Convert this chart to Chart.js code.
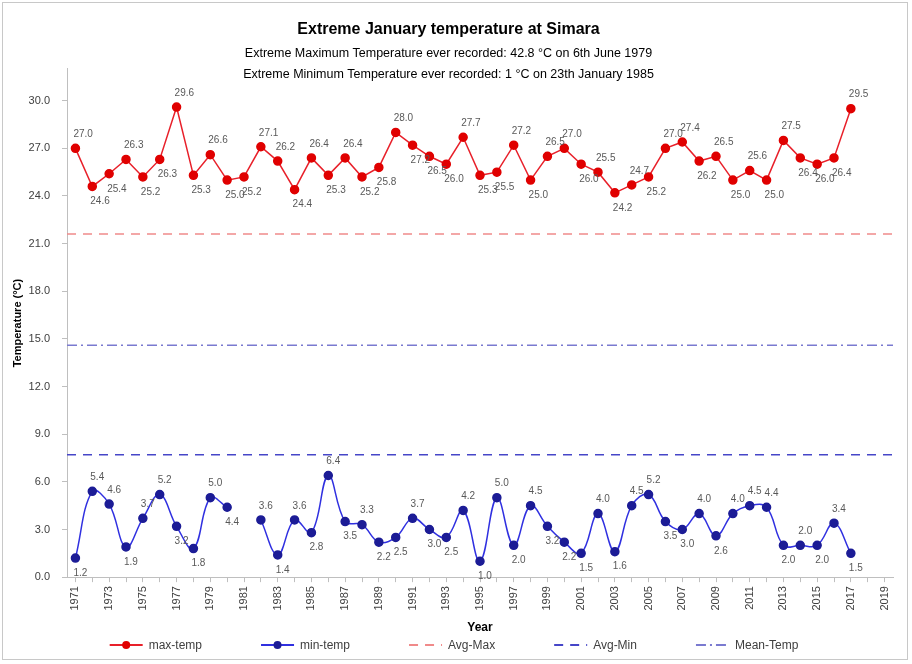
<!DOCTYPE html>
<html>
<head>
<meta charset="utf-8">
<script src="https://cdn.jsdelivr.net/npm/chart.js@4.4.1/dist/chart.umd.min.js"></script>
<style>
  html, body { margin: 0; padding: 0; background: #fff; }
  #wrap { position: absolute; left: 2px; top: 2px; width: 906px; height: 658px;
          border: 1px solid #c8c8c8; box-sizing: border-box; }
</style>
</head>
<body>
<div id="wrap"><canvas id="chart"></canvas></div>
<script>
// Year categories 1971..2019
const years = [];
for (let y = 1971; y <= 2019; y++) years.push(String(y));

// Extreme January maximum temperature (°C), 1971..2017
const maxTemp = [27.0, 24.6, 25.4, 26.3, 25.2, 26.3, 29.6, 25.3, 26.6, 25.0,
                 25.2, 27.1, 26.2, 24.4, 26.4, 25.3, 26.4, 25.2, 25.8, 28.0,
                 27.2, 26.5, 26.0, 27.7, 25.3, 25.5, 27.2, 25.0, 26.5, 27.0,
                 26.0, 25.5, 24.2, 24.7, 25.2, 27.0, 27.4, 26.2, 26.5, 25.0,
                 25.6, 25.0, 27.5, 26.4, 26.0, 26.4, 29.5];

// Extreme January minimum temperature (°C), 1971..2017 (1981 missing)
const minTemp = [1.2, 5.4, 4.6, 1.9, 3.7, 5.2, 3.2, 1.8, 5.0, 4.4,
                 null, 3.6, 1.4, 3.6, 2.8, 6.4, 3.5, 3.3, 2.2, 2.5,
                 3.7, 3.0, 2.5, 4.2, 1.0, 5.0, 2.0, 4.5, 3.2, 2.2,
                 1.5, 4.0, 1.6, 4.5, 5.2, 3.5, 3.0, 4.0, 2.6, 4.0,
                 4.5, 4.4, 2.0, 2.0, 2.0, 3.4, 1.5];

// reference levels
const avgMax = 21.6;
const avgMin = 7.7;
const meanTemp = 14.6;

const yTicks = [0, 3, 6, 9, 12, 15, 18, 21, 24, 27, 30];

const FONT = "'Liberation Sans', Arial, sans-serif";
const flat = v => years.map(() => v);

// value labels (above peaks, below troughs) and a hand drawn legend
const extras = {
  id: 'extras',
  afterDatasetsDraw(chart) {
    const ctx = chart.ctx;
    ctx.save();
    ctx.font = '10px ' + FONT;
    ctx.fillStyle = '#595959';
    ctx.textAlign = 'left';
    ctx.textBaseline = 'middle';
    [0, 1].forEach(di => {
      const vals = chart.data.datasets[di].data;
      const meta = chart.getDatasetMeta(di);
      meta.data.forEach((pt, i) => {
        const v = vals[i];
        if (v == null) return;
        const prev = vals[i - 1] != null ? vals[i - 1] : v;
        const next = vals[i + 1] != null ? vals[i + 1] : v;
        const up = v >= (prev + next) / 2;
        ctx.fillText(v.toFixed(1), pt.x - 2, pt.y + (up ? -14 : 15));
      });
    });
    ctx.restore();
  },
  afterDraw(chart) {
    const ctx = chart.ctx;
    const lineLen = 33, textGap = 6, itemGap = 59;
    const y = chart.height - 14;
    ctx.save();
    ctx.font = '12px ' + FONT;
    ctx.textBaseline = 'middle';
    const items = chart.data.datasets.map(ds => ({ ds, w: lineLen + textGap + ctx.measureText(ds.label).width }));
    const total = items.reduce((s, it) => s + it.w, 0) + itemGap * (items.length - 1);
    let x = (chart.width - total) / 2 - 1;
    items.forEach(({ ds, w }) => {
      ctx.strokeStyle = ds.borderColor;
      ctx.lineWidth = 2;
      ctx.setLineDash(ds.borderDash || []);
      ctx.beginPath();
      ctx.moveTo(x, y);
      ctx.lineTo(x + lineLen, y);
      ctx.stroke();
      ctx.setLineDash([]);
      if (ds.pointRadius) {
        ctx.fillStyle = ds.pointBackgroundColor;
        ctx.beginPath();
        ctx.arc(x + lineLen / 2, y, 4, 0, Math.PI * 2);
        ctx.fill();
      }
      ctx.fillStyle = '#404040';
      ctx.fillText(ds.label, x + lineLen + textGap, y + 1);
      x += w + itemGap;
    });
    ctx.restore();
  }
};

new Chart(document.getElementById('chart'), {
  type: 'line',
  data: {
    labels: years,
    datasets: [
      {
        label: 'max-temp',
        data: maxTemp,
        borderColor: '#e8202a',
        backgroundColor: '#e8202a',
        pointBackgroundColor: '#e00000',
        pointBorderColor: '#e00000',
        pointRadius: 4,
        borderWidth: 1.5,
        tension: 0
      },
      {
        label: 'min-temp',
        data: minTemp,
        borderColor: '#3030e0',
        backgroundColor: '#3030e0',
        pointBackgroundColor: '#1c1c96',
        pointBorderColor: '#1c1c96',
        pointRadius: 4,
        borderWidth: 1.5,
        tension: 0.4,
        spanGaps: false
      },
      {
        label: 'Avg-Max',
        data: flat(avgMax),
        xAxisID: 'x2',
        borderColor: '#f08a8a',
        backgroundColor: 'transparent',
        borderDash: [9, 7],
        borderWidth: 1.5,
        pointRadius: 0
      },
      {
        label: 'Avg-Min',
        data: flat(avgMin),
        xAxisID: 'x2',
        borderColor: '#4646c8',
        backgroundColor: 'transparent',
        borderDash: [9, 7],
        borderWidth: 1.5,
        pointRadius: 0
      },
      {
        label: 'Mean-Temp',
        data: flat(meanTemp),
        xAxisID: 'x2',
        borderColor: '#7a7ad0',
        backgroundColor: 'transparent',
        borderDash: [10, 4, 2, 4],
        borderWidth: 1.5,
        pointRadius: 0
      }
    ]
  },
  options: {
    responsive: true,
    maintainAspectRatio: false,
    animation: false,
    layout: { padding: { left: 1, right: 14, top: 0, bottom: 24 } },
    plugins: {
      title: {
        display: true,
        text: 'Extreme January temperature at Simara',
        color: '#000',
        font: { family: FONT, size: 16, weight: 'bold', lineHeight: 1.2 },
        padding: { top: 17, bottom: 4 }
      },
      subtitle: {
        display: true,
        text: ['Extreme Maximum Temperature ever recorded: 42.8 °C on 6th June 1979',
               'Extreme Minimum Temperature ever recorded: 1 °C on 23th January 1985'],
        color: '#000',
        font: { family: FONT, size: 12.5, lineHeight: 1.65 },
        padding: { top: 0, bottom: -15.5 }
      },
      legend: { display: false },
      tooltip: { enabled: false }
    },
    scales: {
      x: {
        offset: true,
        title: {
          display: true,
          text: 'Year',
          color: '#000',
          font: { family: FONT, size: 12, weight: 'bold' },
          padding: { top: 6, bottom: 0 }
        },
        grid: { drawOnChartArea: false, drawTicks: true, tickLength: 5, color: '#bfbfbf' },
        border: { color: '#bfbfbf' },
        ticks: {
          autoSkip: false,
          minRotation: 90,
          maxRotation: 90,
          padding: 4,
          color: '#404040',
          font: { family: FONT, size: 11 },
          callback(v, i) { return i % 2 === 0 ? years[i] : ''; }
        }
      },
      x2: {
        type: 'category',
        labels: years,
        offset: false,
        display: false
      },
      y: {
        min: 0,
        max: 32,
        title: {
          display: true,
          text: 'Temperature (°C)',
          color: '#000',
          font: { family: FONT, size: 11, weight: 'bold' },
          padding: { top: 7, bottom: 0 }
        },
        grid: { drawOnChartArea: false, drawTicks: true, tickLength: 5, color: '#bfbfbf' },
        border: { color: '#bfbfbf' },
        afterBuildTicks(scale) {
          scale.ticks = yTicks.map(v => ({ value: v }));
        },
        afterFit(scale) {
          scale.width = 63;
        },
        ticks: {
          color: '#404040',
          font: { family: FONT, size: 11 },
          padding: 12,
          callback(v) { return v.toFixed(1); }
        }
      }
    }
  },
  plugins: [extras]
});
</script>
</body>
</html>
